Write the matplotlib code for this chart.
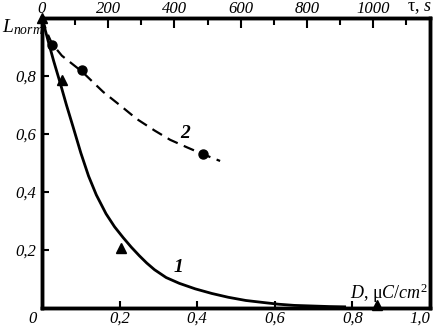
import matplotlib
matplotlib.use("Agg")
import matplotlib.pyplot as plt
from matplotlib.ticker import MultipleLocator

plt.rcParams['font.family'] = ['Liberation Serif', 'DejaVu Serif']
plt.rcParams['mathtext.fontset'] = 'custom'
plt.rcParams['mathtext.it'] = 'Liberation Serif:italic'
plt.rcParams['mathtext.rm'] = 'Liberation Serif'

# curve 1: L_norm vs dose D (bottom axis)
d_line = [0.0, 0.015, 0.03, 0.046, 0.063, 0.08, 0.10, 0.12, 0.14, 0.165,
          0.187, 0.209, 0.23, 0.251, 0.27, 0.29, 0.32, 0.354, 0.395, 0.438,
          0.48, 0.525, 0.57, 0.61, 0.65, 0.695, 0.74, 0.78]
l1_line = [1.0, 0.925, 0.852, 0.78, 0.70, 0.625, 0.535, 0.455, 0.39, 0.325,
           0.28, 0.243, 0.21, 0.18, 0.155, 0.132, 0.105, 0.085, 0.066, 0.05,
           0.037, 0.026, 0.019, 0.013, 0.009, 0.007, 0.005, 0.004]
d_pts = [0.0, 0.051, 0.203, 0.864]
l1_pts = [1.0, 0.786, 0.208, 0.01]

# curve 2: L_norm vs time tau (top axis)
tau_line = [0, 15, 30, 60, 121, 185, 240, 286, 340, 387, 440, 487, 538]
l2_line = [1.0, 0.95, 0.912, 0.87, 0.815, 0.745, 0.695, 0.652, 0.612, 0.580,
           0.553, 0.530, 0.507]
tau_pts = [30, 121, 487]
l2_pts = [0.907, 0.819, 0.530]

x_ticks = [0.2, 0.4, 0.6, 0.8, 1.0]
x_labels = ['0,2', '0,4', '0,6', '0,8', '1,0']
y_ticks = [0.2, 0.4, 0.6, 0.8]
y_labels = ['0,2', '0,4', '0,6', '0,8']
tau_ticks = [0, 200, 400, 600, 800, 1000]

fig = plt.figure(figsize=(4.34, 3.28), dpi=100)
ax = fig.add_axes([42 / 434, 1 - 308 / 328, 388 / 434, 290 / 328])

ax.plot(d_line, l1_line, color='black', lw=2.0)
ax.plot(d_pts, l1_pts, '^', color='black', ms=7, clip_on=False)

ax.set_xlim(0, 0.995)
ax.set_ylim(0, 1.0)
ax.set_xticks(x_ticks)
ax.set_xticklabels(x_labels, fontsize=12, style='italic')
ax.set_yticks(y_ticks)
ax.set_yticklabels(y_labels, fontsize=12, style='italic')
ax.tick_params(direction='in', length=5, width=1.5, pad=4)
ax.tick_params(axis='x', pad=2)
ax.get_xticklabels()[-1].set_ha('right')
for s in ax.spines.values():
    s.set_linewidth(2.5)

ax2 = ax.twiny()
ax2.plot(tau_line, l2_line, color='black', lw=1.6, dashes=(5, 3))
ax2.plot(tau_pts, l2_pts, 'o', color='black', ms=6.5)
ax2.set_xlim(0, 1172)
ax2.set_xticks(tau_ticks)
ax2.set_xticklabels([str(t) for t in tau_ticks], fontsize=12, style='italic')
ax2.xaxis.set_minor_locator(MultipleLocator(100))
ax2.tick_params(direction='in', length=7, width=1.5, pad=1)
ax2.tick_params(which='minor', direction='in', length=5, width=1.5)
for s in ax2.spines.values():
    s.set_linewidth(2.5)

ax.text(0.351, 0.138, '1', fontsize=14, style='italic', fontweight='bold',
        ha='center', va='center')
ax2.text(432, 0.603, '2', fontsize=14, style='italic', fontweight='bold',
         ha='center', va='center')

fig.text(33 / 434, 1 - 319 / 328, '0', fontsize=12, style='italic',
         ha='center', va='center')
fig.text(2 / 434, 1 - 27 / 328, r'$L_{norm}$', fontsize=14, ha='left', va='center')
fig.text(432 / 434, 1 - 8 / 328, r'τ, $s$', fontsize=13,
         ha='right', va='center')
fig.text(428 / 434, 1 - 293 / 328, r'$D$, μ$C/cm^2$', fontsize=13,
         ha='right', va='center')

fig.savefig('out.png', dpi=100)
